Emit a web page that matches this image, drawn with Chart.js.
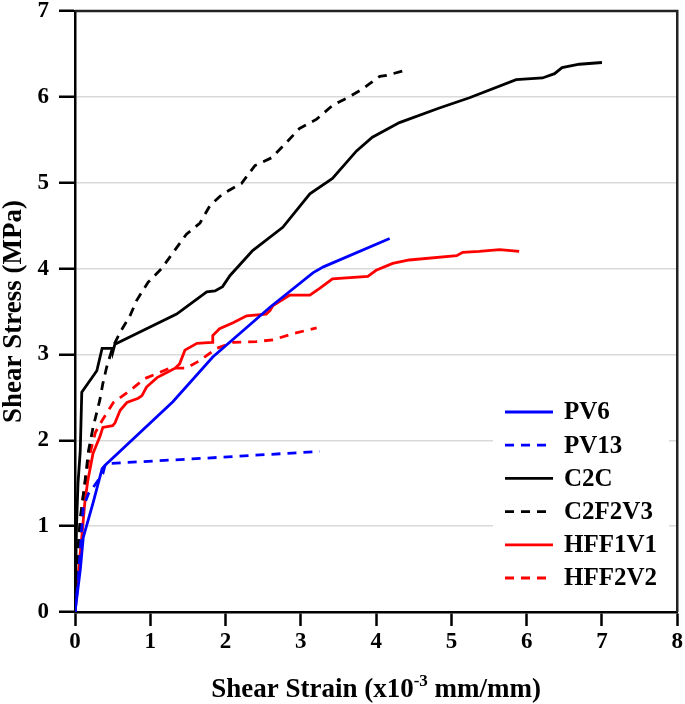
<!DOCTYPE html>
<html>
<head>
<meta charset="utf-8">
<script src="https://cdn.jsdelivr.net/npm/chart.js@4.4.1/dist/chart.umd.min.js"></script>
<style>
body { margin: 0; background: #fff; }
</style>
</head>
<body>
<canvas id="chart" width="685" height="704"></canvas>
<script>
// fonts: Times-like bold everywhere
const FONT = '"Liberation Serif", "Times New Roman", serif';

// x = shear strain (x10^-3 mm/mm), y = shear stress (MPa)
const pv6X = [0, 0.07, 0.11, 0.24, 0.36, 0.4, 1.3, 1.83, 2.59, 3.16, 3.3, 4.18];
const pv6Y = [0, 0.49, 0.87, 1.27, 1.67, 1.71, 2.45, 2.97, 3.55, 3.95, 4.02, 4.35];

const pv13X = [0, 0.04, 0.07, 0.11, 0.18, 0.24, 0.37, 0.4, 0.46, 1.7, 3.25];
const pv13Y = [0, 0.34, 0.72, 1.22, 1.38, 1.45, 1.61, 1.71, 1.73, 1.79, 1.87];

const c2cX = [0, 0.02, 0.04, 0.07, 0.09, 0.29, 0.36, 0.49, 0.5, 0.53, 0.95, 1.35, 1.75, 1.86, 1.96, 2.06, 2.36, 2.76, 3.12, 3.42, 3.74, 3.95, 4.31, 4.84, 5.24, 5.86, 6.21, 6.37, 6.47, 6.7, 7.0];
const c2cY = [0, 1.0, 1.5, 1.88, 2.56, 2.81, 3.07, 3.07, 3.02, 3.12, 3.3, 3.47, 3.73, 3.74, 3.79, 3.92, 4.21, 4.48, 4.87, 5.05, 5.37, 5.53, 5.7, 5.87, 5.99, 6.2, 6.22, 6.27, 6.34, 6.38, 6.4];

const c2f2v3X = [0, 0.03, 0.07, 0.09, 0.13, 0.18, 0.24, 0.33, 0.37, 0.42, 0.5, 0.6, 0.73, 0.82, 0.97, 1.15, 1.29, 1.48, 1.66, 1.79, 1.96, 2.21, 2.39, 2.61, 2.81, 2.98, 3.21, 3.42, 3.62, 3.82, 3.91, 4.05, 4.14, 4.35];
const c2f2v3Y = [0, 0.6, 1.1, 1.22, 1.5, 1.88, 2.15, 2.47, 2.66, 2.85, 3.08, 3.26, 3.45, 3.63, 3.84, 4.0, 4.17, 4.4, 4.53, 4.73, 4.87, 4.99, 5.2, 5.29, 5.47, 5.63, 5.74, 5.9, 5.99, 6.09, 6.15, 6.24, 6.25, 6.3];

const hff1v1X = [0, 0.03, 0.06, 0.09, 0.13, 0.17, 0.24, 0.33, 0.37, 0.5, 0.53, 0.6, 0.69, 0.84, 0.89, 0.95, 1.09, 1.22, 1.33, 1.39, 1.46, 1.62, 1.82, 1.83, 1.92, 2.1, 2.28, 2.54, 2.59, 2.63, 2.85, 3.12, 3.25, 3.42, 3.89, 4.0, 4.22, 4.44, 5.07, 5.15, 5.37, 5.64, 5.9];
const hff1v1Y = [0, 0.3, 0.6, 0.87, 1.27, 1.53, 1.85, 2.04, 2.15, 2.17, 2.2, 2.35, 2.44, 2.49, 2.52, 2.62, 2.73, 2.79, 2.84, 2.89, 3.05, 3.13, 3.14, 3.22, 3.3, 3.37, 3.45, 3.47, 3.51, 3.57, 3.69, 3.69, 3.77, 3.88, 3.91, 3.98, 4.06, 4.1, 4.15, 4.19, 4.2, 4.22, 4.2];

const hff2v2X = [0, 0.03, 0.06, 0.1, 0.15, 0.2, 0.27, 0.36, 0.51, 0.73, 0.93, 1.26, 1.48, 1.66, 1.88, 2.1, 2.41, 2.63, 2.89, 3.21];
const hff2v2Y = [0, 0.4, 0.9, 1.3, 1.6, 1.85, 2.09, 2.23, 2.44, 2.58, 2.72, 2.84, 2.84, 2.93, 3.07, 3.14, 3.15, 3.17, 3.24, 3.31];

const xTicks = [0, 1, 2, 3, 4, 5, 6, 7, 8];
const yTicks = [0, 1, 2, 3, 4, 5, 6, 7];

function pts(xs, ys) {
  return xs.map((x, i) => ({ x: x, y: ys[i] }));
}

function line(label, xs, ys, color, dashed) {
  return {
    label: label,
    data: pts(xs, ys),
    borderColor: color,
    backgroundColor: color,
    borderWidth: 2.8,
    borderDash: dashed ? [9, 7] : [],
    pointRadius: 0,
    tension: 0,
    fill: false
  };
}

// top + right frame lines
const frame = {
  id: 'frame',
  beforeDatasetsDraw(chart) {
    const a = chart.chartArea, c = chart.ctx;
    c.save();
    c.strokeStyle = '#222';
    c.lineWidth = 2.5;
    c.beginPath();
    c.moveTo(a.left, a.top);
    c.lineTo(a.right, a.top);
    c.lineTo(a.right, a.bottom);
    c.stroke();
    c.restore();
  }
};

// legend inside the plot, bottom right
const legendBox = {
  id: 'legendBox',
  afterDatasetsDraw(chart) {
    const c = chart.ctx;
    c.save();
    c.fillStyle = '#fff';
    c.fillRect(493, 398, 176, 198);
    c.font = 'bold 25px ' + FONT;
    c.textBaseline = 'middle';
    chart.data.datasets.forEach((ds, i) => {
      const y = 412 + i * 33.2;
      c.strokeStyle = ds.borderColor;
      c.lineWidth = 2.8;
      c.setLineDash(ds.borderDash);
      c.beginPath();
      c.moveTo(505, y);
      c.lineTo(553, y);
      c.stroke();
      c.setLineDash([]);
      c.fillStyle = '#000';
      c.fillText(ds.label, 564, y + 1);
    });
    c.restore();
  }
};

// x title with superscript
const xTitle = {
  id: 'xTitle',
  afterDraw(chart) {
    const c = chart.ctx, a = chart.chartArea;
    const big = 'bold 27px ' + FONT, small = 'bold 17px ' + FONT;
    const p1 = 'Shear Strain (x10', p2 = '-3', p3 = ' mm/mm)';
    c.save();
    c.fillStyle = '#000';
    c.textBaseline = 'alphabetic';
    c.font = big; const w1 = c.measureText(p1).width, w3 = c.measureText(p3).width;
    c.font = small; const w2 = c.measureText(p2).width;
    let x = (a.left + a.right) / 2 - (w1 + w2 + w3) / 2;
    const y = 697;
    c.font = big; c.fillText(p1, x, y); x += w1;
    c.font = small; c.fillText(p2, x, y - 11); x += w2;
    c.font = big; c.fillText(p3, x, y);
    c.restore();
  }
};

new Chart(document.getElementById('chart'), {
  type: 'line',
  data: {
    datasets: [
      line('PV6', pv6X, pv6Y, '#0000ff', false),
      line('PV13', pv13X, pv13Y, '#0000ff', true),
      line('C2C', c2cX, c2cY, '#000000', false),
      line('C2F2V3', c2f2v3X, c2f2v3Y, '#000000', true),
      line('HFF1V1', hff1v1X, hff1v1Y, '#ff0000', false),
      line('HFF2V2', hff2v2X, hff2v2Y, '#ff0000', true)
    ]
  },
  options: {
    responsive: false,
    animation: false,
    layout: { autoPadding: false, padding: { left: 0, top: 11, right: 7, bottom: 0 } },
    plugins: {
      legend: { display: false },
      tooltip: { enabled: false }
    },
    scales: {
      x: {
        type: 'linear',
        min: 0,
        max: 8,
        afterBuildTicks: (s) => { s.ticks = xTicks.map(v => ({ value: v })); },
        afterFit: (s) => { s.height = 92; },
        ticks: { color: '#000', font: { family: FONT, size: 23, weight: 'bold' }, padding: 2 },
        grid: { drawOnChartArea: false, tickLength: 14, tickColor: '#000', tickWidth: 2.5 },
        border: { color: '#000', width: 2.5 }
      },
      y: {
        type: 'linear',
        min: 0,
        max: 7,
        afterBuildTicks: (s) => { s.ticks = yTicks.map(v => ({ value: v })); },
        afterFit: (s) => { s.width = 75; s.paddingTop = 0; s.paddingBottom = 0; },
        ticks: { color: '#000', font: { family: FONT, size: 23, weight: 'bold', lineHeight: 0.6 }, padding: 10 },
        grid: { color: '#d9d9d9', lineWidth: 1.5, tickLength: 16, tickColor: '#000', tickWidth: 2.5 },
        border: { color: '#000', width: 2.5 },
        title: {
          display: true,
          text: 'Shear Stress (MPa)',
          color: '#000',
          font: { family: FONT, size: 27, weight: 'bold', lineHeight: 1 },
          padding: { top: 1, bottom: 0 }
        }
      }
    }
  },
  plugins: [frame, legendBox, xTitle]
});
</script>
</body>
</html>
